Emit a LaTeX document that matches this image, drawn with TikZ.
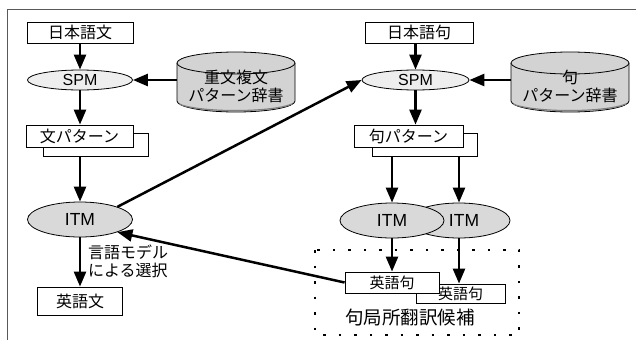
\documentclass[tikz,border=0pt]{standalone}
\usepackage{fontspec}
\setmainfont{Liberation Sans}
\newfontfamily\jp{Noto Sans CJK JP}
\usetikzlibrary{arrows.meta,shapes.geometric}
\definecolor{spmgray}{HTML}{EEEEEE}
\definecolor{itmgray}{HTML}{D9D9D9}
\definecolor{dbgray}{HTML}{D3D3D3}
\begin{document}
\begin{tikzpicture}[x=1pt,y=-1pt,
  box/.style={draw, fill=white, line width=0.8pt, inner sep=0pt, font=\jp\fontsize{16}{18}\selectfont},
  oval/.style={ellipse, draw, line width=0.8pt, inner sep=0pt, font=\fontsize{16}{18}\selectfont},
  itm/.style={oval, fill=itmgray, font=\fontsize{17.5}{20}\selectfont},
  arr/.style={line width=2.5pt, -{Triangle[length=15pt,width=12pt]}},
  jptext/.style={font=\jp\fontsize{16}{18}\selectfont, inner sep=0pt},
  dbbody/.style={fill=dbgray, draw, line width=0.8pt},
  dotbox/.style={line width=2.5pt, dash pattern=on 2.5pt off 13pt},
  frame/.style={draw=black!65, line width=1pt}]
\useasboundingbox (0,0) rectangle (636,340);
\draw[frame] (7.5,340) -- (7.5,9) -- (636,9);

% left cylinder
\fill[dbgray] (177,63) -- (177,101) arc[start angle=180,end angle=360,x radius=59pt,y radius=11pt] -- (295,63) -- cycle;
\draw[line width=0.8pt] (177,63) -- (177,101) arc[start angle=180,end angle=360,x radius=59pt,y radius=11pt] -- (295,63);
\draw[black!50, line width=1.2pt] (179,104) arc[start angle=200,end angle=340,x radius=60pt,y radius=10pt];
\draw[dbbody] (236,63) ellipse [x radius=59pt, y radius=11pt];
\node[minimum width=118pt, minimum height=60pt, inner sep=0pt] (db1) at (236,82) {};
\node[jptext, align=center] (db1t) at (236,86) {重文複文\\パターン辞書};

% right cylinder
\fill[dbgray] (511,63) -- (511,101) arc[start angle=180,end angle=360,x radius=59pt,y radius=11pt] -- (629,63) -- cycle;
\draw[line width=0.8pt] (511,63) -- (511,101) arc[start angle=180,end angle=360,x radius=59pt,y radius=11pt] -- (629,63);
\draw[black!50, line width=1.2pt] (513,104) arc[start angle=200,end angle=340,x radius=60pt,y radius=10pt];
\draw[dbbody] (570,63) ellipse [x radius=59pt, y radius=11pt];
\node[minimum width=118pt, minimum height=60pt, inner sep=0pt] (db2) at (570,82) {};
\node[jptext, align=center] (db2t) at (570,86) {句\\パターン辞書};

% left column
\node[box, minimum width=106pt, minimum height=21pt] (jp1) at (80,32.5) {日本語文};
\node[oval, fill=spmgray, minimum width=105pt, minimum height=20pt] (spmL) at (80,80) {SPM};
\node[box, minimum width=105pt, minimum height=23pt] (bp1s) at (95.5,144.5) {};
\node[box, minimum width=107pt, minimum height=22pt] (bp1) at (79.5,136) {文パターン};
\node[itm, minimum width=105pt, minimum height=35pt] (itmL) at (80,219.5) {ITM};
\node[box, minimum width=85pt, minimum height=28pt] (en1) at (80,301) {英語文};
\node[jptext, align=left, anchor=west] (lm) at (88,261) {言語モデル\\による選択};

% right column
\draw[dotbox] (315,250) rectangle (519,335);
\node[box, minimum width=108pt, minimum height=21pt] (jp2) at (419,32.5) {日本語句};
\node[oval, fill=spmgray, minimum width=107pt, minimum height=20pt] (spmR) at (415.5,80) {SPM};
\node[box, minimum width=105pt, minimum height=23pt] (bp2s) at (424.5,144.5) {};
\node[box, minimum width=109pt, minimum height=22pt] (bp2) at (408.5,136) {句パターン};
\node[itm, minimum width=102pt, minimum height=35pt] (itm2) at (459,220.5) {\hspace{10pt}ITM};
\node[itm, minimum width=104pt, minimum height=35pt] (itm1) at (392,220.5) {ITM};
\node[box, minimum width=89pt, minimum height=19pt, font=\jp\fontsize{15}{17}\selectfont] (ep2) at (460.5,293.5) {英語句};
\node[box, minimum width=94pt, minimum height=21pt, font=\jp\fontsize{15}{17}\selectfont] (ep1) at (392,282.5) {英語句};
\node[font=\jp\fontsize{18.5}{20}\selectfont, inner sep=0pt] (cand) at (410,318) {句局所翻訳候補};

% connectors
\draw[arr] (jp1.south) -- (spmL.north);
\draw[arr] (db1.west |- spmL.east) -- (spmL.east);
\draw[arr] (spmL.south) -- (spmL.south |- bp1.north);
\draw[arr] (bp1s.south -| itmL.north) -- (itmL.north);
\draw[arr] (itmL.south) -- (en1.north);
\draw[arr] (itmL.north east) -- (spmR.west);
\draw[arr] (spmR.north |- jp2.south) -- (spmR.north);
\draw[arr] (db2.west |- spmR.east) -- (spmR.east);
\draw[arr] (spmR.south) -- (spmR.south |- bp2.north);
\draw[arr] (bp2s.south -| itm1.north) -- (itm1.north);
\draw[arr] (bp2s.south -| itm2.north) -- (itm2.north);
\draw[arr] (itm1.south) -- (ep1.north);
\draw[arr] (itm2.south) -- (itm2.south |- ep2.north);
\draw[arr] (ep1.west) -- (itmL.south east);
\end{tikzpicture}
\end{document}
